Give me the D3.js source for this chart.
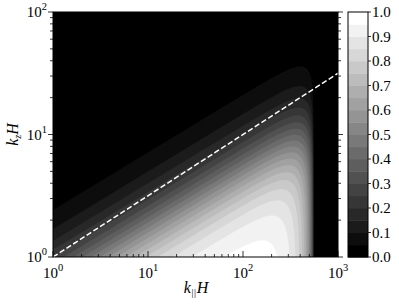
<!DOCTYPE html>
<html><head><meta charset="utf-8">
<script src="https://cdn.jsdelivr.net/npm/d3@7"></script>
<style>
body{margin:0;background:#fff}
text{font-family:"Liberation Serif","DejaVu Serif",serif;fill:#000}
</style>
</head><body>
<svg id="c" width="399" height="305"></svg>
<script>
// ---------- data ----------
const xDomain = [1, 1000];                 // k_parallel H
const yDomain = [1, 100];                  // k_z H
const levels = d3.range(0, 20).map(i => +(i * 0.05).toFixed(2)); // contour thresholds
const xMajorTicks = [1, 10, 100, 1000];
const xTickExponents = ["0", "1", "2", "3"];
const yMajorTicks = [1, 10, 100];
const yTickExponents = ["0", "1", "2"];
const cbarTicks = [0, 0.1, 0.2, 0.3, 0.4, 0.5, 0.6, 0.7, 0.8, 0.9, 1.0];
const cbarTickLabels = ["0.0","0.1","0.2","0.3","0.4","0.5","0.6","0.7","0.8","0.9","1.0"];
const dashedLineX = [1, 1000];
const dashedLineY = [1, 31.62];
// field shape (log-decade units)
const ridgeSlope = 0.47;        // contours ~ kz ∝ kpar^0.47
const ridgeOffset = -0.23;      // half-level offset of the ridge (decades)
const ridgeSteepness = 4.8;     // per decade
const cutoffKpar = 555;         // sharp cutoff in k_parallel H
const cutoffPower = 3;

// ---------- layout ----------
const svg = d3.select("#c");
const L = 53, R = 338, T = 12, B = 257;
const x = d3.scaleLog().domain(xDomain).range([L, R]);
const y = d3.scaleLog().domain(yDomain).range([B, T]);

function field(kp, kz) {
  const d = Math.log10(kz) - ridgeSlope * Math.log10(kp);
  const g = 1 / (1 + Math.exp(ridgeSteepness * (d - ridgeOffset)));
  const r = Math.pow(kp / cutoffKpar, cutoffPower);
  const a = r >= 1 ? 0 : Math.sqrt(1 - r);
  return g * a;
}

const nx = 380, ny = 330;
const lx0 = Math.log10(xDomain[0]), lx1 = Math.log10(xDomain[1]);
const ly0 = Math.log10(yDomain[0]), ly1 = Math.log10(yDomain[1]);
const values = new Float64Array(nx * ny);
for (let j = 0; j < ny; j++) {
  const kz = Math.pow(10, ly0 + (j + 0.5) / ny * (ly1 - ly0));
  for (let i = 0; i < nx; i++) {
    const kp = Math.pow(10, lx0 + (i + 0.5) / nx * (lx1 - lx0));
    values[j * nx + i] = field(kp, kz);
  }
}
const contours = d3.contours().size([nx, ny]).thresholds(levels)(values);
const proj = d3.geoTransform({point: function(px, py) {
  this.stream.point(
    x(Math.pow(10, lx0 + px / nx * (lx1 - lx0))),
    y(Math.pow(10, ly0 + py / ny * (ly1 - ly0))));
}});
const path = d3.geoPath(proj);
const nLev = levels.length;
const color = i => { const g = Math.round(i / (nLev - 1) * 255); return `rgb(${g},${g},${g})`; };

svg.append("clipPath").attr("id", "clip").append("rect")
  .attr("x", L).attr("y", T).attr("width", R - L).attr("height", B - T);
const plot = svg.append("g").attr("clip-path", "url(#clip)");
plot.append("rect").attr("x", L).attr("y", T).attr("width", R - L).attr("height", B - T).attr("fill", color(0));
plot.selectAll("path.band").data(contours).join("path")
  .attr("class", "band").attr("d", path)
  .attr("fill", (c, i) => color(i)).attr("stroke", (c, i) => color(i)).attr("stroke-width", 0.3);

// dashed line
plot.append("path")
  .attr("d", d3.line()([[x(dashedLineX[0]), y(dashedLineY[0])], [x(dashedLineX[1]), y(dashedLineY[1])]]))
  .attr("stroke", "#fff").attr("stroke-width", 1.5).attr("stroke-dasharray", "5.5,2.5").attr("fill", "none");

// ---------- axes ----------
function minorTicks(dom) {
  const out = [];
  for (let e = Math.log10(dom[0]); e < Math.log10(dom[1]); e++)
    for (let m = 2; m <= 9; m++) out.push(m * Math.pow(10, e));
  return out;
}
const ax = svg.append("g").attr("stroke", "#000").attr("stroke-width", 0.8);
svg.append("rect").attr("x", L).attr("y", T).attr("width", R - L).attr("height", B - T)
  .attr("fill", "none").attr("stroke", "#000").attr("stroke-width", 1);
xMajorTicks.forEach(v => ax.append("line").attr("x1", x(v)).attr("x2", x(v)).attr("y1", B).attr("y2", B - 6));
minorTicks(xDomain).forEach(v => ax.append("line").attr("x1", x(v)).attr("x2", x(v)).attr("y1", B).attr("y2", B - 3));
yMajorTicks.forEach(v => {
  ax.append("line").attr("x1", L).attr("x2", L - 5).attr("y1", y(v)).attr("y2", y(v));
  ax.append("line").attr("x1", R).attr("x2", R + 5).attr("y1", y(v)).attr("y2", y(v));
});
minorTicks(yDomain).forEach(v => {
  ax.append("line").attr("x1", L).attr("x2", L - 3).attr("y1", y(v)).attr("y2", y(v));
  ax.append("line").attr("x1", R).attr("x2", R + 3).attr("y1", y(v)).attr("y2", y(v));
});
xMajorTicks.forEach((v, i) => {
  const t = svg.append("text").attr("x", x(v)).attr("y", 278).attr("text-anchor", "middle").attr("font-size", 15);
  t.append("tspan").text("10");
  t.append("tspan").attr("font-size", 10.5).attr("dy", -7).text(xTickExponents[i]);
});
yMajorTicks.forEach((v, i) => {
  const t = svg.append("text").attr("x", L - 6).attr("y", y(v) + 5).attr("text-anchor", "end").attr("font-size", 15);
  t.append("tspan").text("10");
  t.append("tspan").attr("font-size", 10.5).attr("dy", -7).text(yTickExponents[i]);
});
// axis labels
const xl = svg.append("text").attr("x", 196).attr("y", 293).attr("text-anchor", "middle").attr("font-size", 16);
xl.append("tspan").attr("font-style", "italic").text("k");
xl.append("tspan").attr("font-size", 10).attr("dy", 3).attr("dx", 0.5).attr("letter-spacing", 0.6).text("||");
xl.append("tspan").attr("font-style", "italic").attr("dy", -3).text("H");
const yl = svg.append("text").attr("transform", `translate(18,${(T + B) / 2}) rotate(-90)`)
  .attr("text-anchor", "middle").attr("font-size", 16);
yl.append("tspan").attr("font-style", "italic").text("k");
yl.append("tspan").attr("font-style", "italic").attr("font-size", 10).attr("dy", 3).text("z");
yl.append("tspan").attr("font-style", "italic").attr("dy", -3).text("H");

// ---------- colorbar ----------
const cx0 = 348, cx1 = 368;
const cy = d3.scaleLinear().domain([0, 1]).range([B, T]);
const cb = svg.append("g");
levels.forEach((lv, i) => {
  cb.append("rect").attr("x", cx0).attr("width", cx1 - cx0)
    .attr("y", cy(lv + 0.05)).attr("height", cy(lv) - cy(lv + 0.05) + 0.5)
    .attr("fill", color(i));
});
cb.append("rect").attr("x", cx0).attr("y", T).attr("width", cx1 - cx0).attr("height", B - T)
  .attr("fill", "none").attr("stroke", "#000").attr("stroke-width", 1);
cbarTicks.forEach((v, i) => {
  cb.append("line").attr("x1", cx1).attr("x2", cx1 + 3).attr("y1", cy(v)).attr("y2", cy(v))
    .attr("stroke", "#000").attr("stroke-width", 0.8);
  cb.append("text").attr("x", cx1 + 4).attr("y", cy(v) + 5).attr("font-size", 15).text(cbarTickLabels[i]);
});
</script>
</body></html>
